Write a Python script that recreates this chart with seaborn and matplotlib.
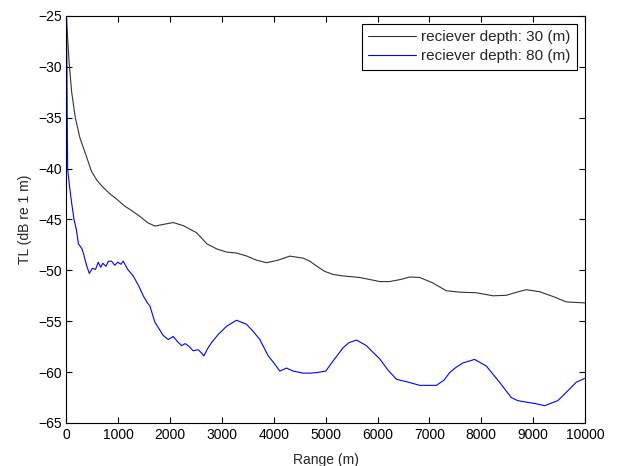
import numpy as np
import pandas as pd
import matplotlib
matplotlib.use("Agg")
import matplotlib.pyplot as plt
import seaborn as sns

# --- data (range in m, TL in dB re 1 m) ---
range_30 = [0, 20, 50, 100, 170, 260, 370, 485, 580, 678, 820, 967,
            1127, 1250, 1416, 1560, 1705, 1850, 2058, 2250, 2508, 2710, 2900,
            3086, 3279, 3480, 3665, 3858, 4080, 4307, 4564, 4692, 4830, 4981,
            5140, 5333, 5655, 5850, 6040, 6233, 6440, 6619, 6811, 7050, 7325,
            7600, 7904, 8226, 8483, 8680, 8869, 9127, 9400, 9640, 10000]
tl_30 = [-25.2, -27.0, -29.5, -32.5, -35.0, -37.0, -38.6, -40.3,
         -41.1, -41.7, -42.4, -43.0, -43.7, -44.1, -44.7, -45.3, -45.65, -45.5,
         -45.3, -45.6, -46.3, -47.4, -47.9, -48.2, -48.3, -48.6, -49.0, -49.25,
         -49.0, -48.6, -48.8, -49.1, -49.6, -50.1, -50.4, -50.55, -50.7, -50.9,
         -51.1, -51.1, -50.9, -50.65, -50.7, -51.2, -52.0, -52.15, -52.2, -52.5,
         -52.45, -52.15, -51.9, -52.1, -52.6, -53.1, -53.2]

range_80 = [0, 8, 14, 23, 60, 100, 145, 190, 230, 260, 300, 330, 389, 440, 500,
            560, 613, 660, 700, 760, 810, 870, 930, 990, 1050, 1094, 1180, 1287,
            1400, 1480, 1560, 1609, 1650, 1705, 1780, 1865, 1962, 2058, 2140,
            2218, 2290, 2347, 2443, 2540, 2600, 2650, 2720, 2797, 2926, 3086,
            3279, 3472, 3600, 3729, 3890, 4000, 4114, 4243, 4371, 4564, 4700,
            4821, 5000, 5142, 5335, 5450, 5592, 5785, 5900, 6041, 6200, 6362,
            6600, 6811, 7133, 7280, 7389, 7520, 7646, 7871, 8096, 8352, 8578,
            8700, 8867, 9050, 9220, 9476, 9637, 9830, 10000]
tl_80 = [-25.0, -30.0, -35.0, -40.1, -41.8, -43.4, -45.0, -46.0, -47.4, -47.6,
         -47.9, -48.4, -49.55, -50.3, -49.8, -49.9, -49.2, -49.7, -49.3, -49.6,
         -49.1, -49.1, -49.5, -49.2, -49.4, -49.1, -49.9, -50.55, -51.6, -52.5,
         -53.2, -53.5, -54.2, -55.1, -55.7, -56.4, -56.8, -56.5, -57.0, -57.4,
         -57.2, -57.4, -57.9, -57.8, -58.1, -58.4, -57.7, -57.1, -56.3, -55.5,
         -54.9, -55.3, -56.0, -56.8, -58.4, -59.1, -59.9, -59.6, -59.9, -60.1,
         -60.1, -60.05, -59.9, -58.9, -57.6, -57.1, -56.85, -57.4, -58.0, -58.7,
         -59.8, -60.7, -61.0, -61.3, -61.3, -60.8, -60.05, -59.5, -59.1, -58.75,
         -59.4, -61.0, -62.5, -62.8, -62.95, -63.1, -63.3, -62.8, -62.0, -61.0,
         -60.6]

sns.set_style("ticks")
plt.rcParams['font.family'] = ['Liberation Sans', 'DejaVu Sans']

fig = plt.figure(figsize=(6.18, 4.66), dpi=100)
ax = fig.add_axes([0.1076, 0.0923, 0.8390, 0.8734])

sns.lineplot(x=range_30, y=tl_30, ax=ax, color="#333333", linewidth=0.8,
             label="reciever depth: 30 (m)", sort=False)
sns.lineplot(x=range_80, y=tl_80, ax=ax, color="#0000ff", linewidth=0.8,
             label="reciever depth: 80 (m)", sort=False)

ax.set_xlim(0, 10000)
ax.set_ylim(-65, -25)
ax.set_xticks(np.arange(0, 10001, 1000))
ax.set_yticks(np.arange(-65, -24, 5))
ax.tick_params(direction="in", top=True, right=True, length=4, width=0.8,
               labelsize=10, colors="black")
for s in ax.spines.values():
    s.set_visible(True)
    s.set_linewidth(0.8)
    s.set_color("black")

ax.set_xlabel("Range (m)", fontsize=10, labelpad=8)
ax.set_ylabel("TL (dB re 1 m)", fontsize=10, labelpad=4)

leg = ax.legend(loc="upper right", fontsize=11, fancybox=False, frameon=True,
                edgecolor="black", framealpha=1, borderaxespad=0.5,
                handlelength=3.1, handletextpad=0.35, borderpad=0.45,
                labelspacing=0.3)
leg.get_frame().set_linewidth(0.8)

fig.savefig("out.png", dpi=100)
